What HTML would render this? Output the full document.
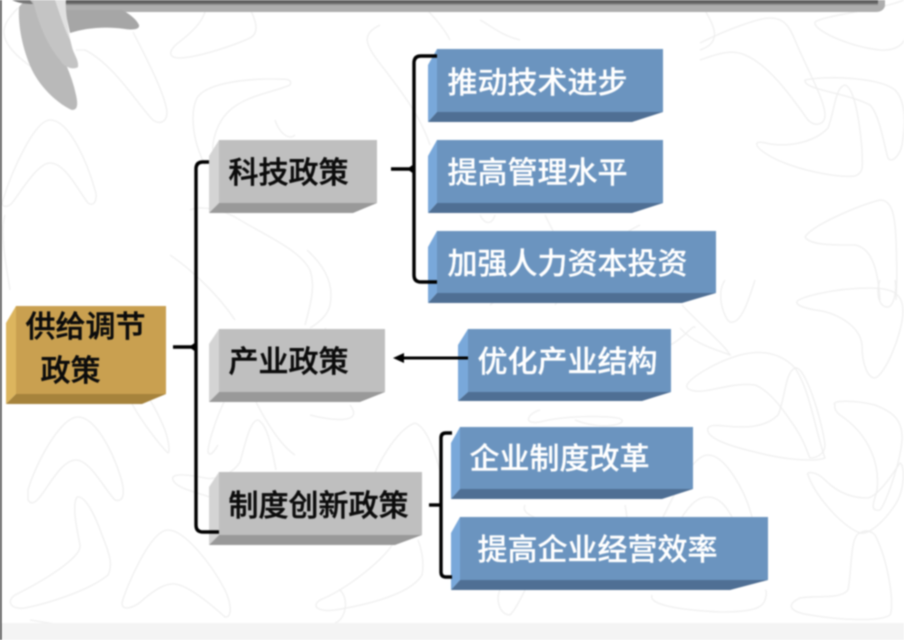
<!DOCTYPE html>
<html lang="zh">
<head>
<meta charset="utf-8">
<style>
html,body{margin:0;padding:0;background:#fff;width:904px;height:640px;overflow:hidden}
svg{display:block;filter:blur(.7px)}
text{font-family:"Liberation Sans","Noto Sans CJK SC",sans-serif;font-size:30px}
.b{fill:#0c0c0c;font-weight:500;stroke:#0c0c0c;stroke-width:.5}
.w{fill:#fff;font-weight:500;stroke:#fff;stroke-width:.2}
.o{fill:none;stroke:#efefef;stroke-width:1.3}
.c{fill:none;stroke:#000;stroke-width:3.4;stroke-linejoin:round}
</style>
</head>
<body>
<svg width="904" height="640" viewBox="0 0 904 640" xmlns="http://www.w3.org/2000/svg">
<rect width="904" height="640" fill="#fff"/>

<!-- boomerang outlines -->
<g class="o">
<path d="M18 8C8 18 3 26 4 34C6 50 30 68 48 76C58 80 68 82 70 78"/>
<path d="M133 32C150 65 165 95 167 112C167 122 160 125 153 120C140 108 115 65 85 50L76 50"/>
<path d="M207 0C207 18 195 30 178 43C168 51 168 58 180 58C200 57 235 45 250 38C260 33 257 20 245 0"/>
<path d="M290 85C293 78 285 79 265 79C235 80 205 85 197 98C190 112 192 140 205 165"/>
<path d="M290 85C275 92 245 95 228 112C215 125 212 145 213 150"/>
<path d="M3 200C0 208 8 208 12 203C22 190 38 163 50 163C65 163 78 190 88 203C95 208 98 197 95 190C88 165 70 120 50 120C35 120 12 170 3 200Z"/>
<path d="M28 500C33 508 40 497 45 490C55 475 65 460 76 460C90 460 105 490 115 500C125 503 125 490 120 475C112 450 95 417 78 417C60 417 35 465 28 490Z"/>
<path d="M77 497C72 505 76 525 80 545C82 555 55 575 15 595C5 602 12 610 25 608C50 603 90 590 108 575C113 565 110 555 102 535C95 515 85 495 77 497Z"/>
<path d="M168 530C150 530 125 590 122 603C122 612 135 608 145 598C155 590 165 583 175 584C190 586 215 608 225 617C232 618 232 605 225 590C212 565 185 530 168 530Z"/>
<path d="M258 420C250 420 245 445 240 462C232 475 215 480 205 478C190 475 170 472 173 480C176 488 195 492 210 497"/>
<path d="M258 420C268 425 272 450 276 470"/>
<path d="M130 400C140 420 160 445 167 452C170 456 170 445 165 430C160 418 155 408 150 400"/>
<path d="M225 400C215 420 208 445 208 452C210 458 215 450 218 445"/>
<path d="M415 423C395 430 375 470 372 480M415 423C430 428 440 470 442 480"/>
<path d="M395 540C385 560 345 590 320 600C310 607 320 612 335 610C365 605 410 595 422 575C425 560 420 545 418 540"/>
<path d="M190 210C200 205 225 210 240 220C265 235 300 250 310 270C315 285 312 300 305 325"/>
<path d="M170 255C185 265 215 290 235 320"/>
<path d="M307 250C320 262 335 280 330 305C328 315 320 322 310 328"/>
<path d="M340 590C350 600 345 620 335 623M255 400C265 420 280 445 295 455"/>
<path d="M5 215C0 230 5 260 10 290M30 620C60 625 100 630 130 635"/>
<path d="M700 43C730 28 760 18 770 18C785 18 790 28 795 40C805 65 825 100 825 115C825 125 815 127 808 120C795 102 770 65 745 55C730 48 712 56 700 60"/>
<path d="M815 22C812 30 850 47 880 50C895 51 903 45 905 38M815 22C825 15 880 10 904 0"/>
<path d="M805 80C803 90 845 92 870 105C880 115 885 150 888 158C892 164 900 155 902 145C906 120 905 100 895 90C880 78 830 75 805 80Z"/>
<path d="M757 143C755 148 770 158 790 165C810 172 840 178 855 176C865 172 862 165 862 150C860 125 855 88 845 85C835 87 835 110 828 128C815 142 790 147 770 144C762 142 758 142 757 143Z"/>
<path d="M805 237C812 225 860 205 880 200C892 200 895 215 896 240C897 265 897 285 896 300"/>
<path d="M805 237C810 246 840 245 855 245C872 248 878 270 880 300"/>
<path d="M700 0C705 15 730 40 700 50"/>
<path d="M725 280C715 295 725 320 730 322C742 325 750 295 755 280"/>
<path d="M797 303C793 298 835 288 870 288C895 288 903 295 903 312C902 335 885 375 875 378C868 378 862 365 862 345C860 325 835 312 815 310C805 308 798 306 797 303Z"/>
<path d="M880 280C875 295 880 308 888 307C894 306 897 290 895 280"/>
<path d="M687 385C685 390 695 393 710 390C725 387 740 383 755 385C768 390 780 405 790 420C805 440 808 455 810 458C815 458 825 455 825 445C822 420 805 365 795 368C780 352 760 350 740 355C715 362 690 378 687 385Z"/>
<path d="M708 428C705 437 725 445 755 452C785 460 815 462 825 458C815 430 810 390 795 368C785 372 785 400 778 415C765 428 745 428 725 426C715 425 710 425 708 428Z"/>
<path d="M835 405C830 400 855 400 875 405C893 412 903 420 902 440C900 465 885 505 880 510C868 512 875 500 877 490C880 465 870 435 840 415C835 411 834 408 835 405Z"/>
<path d="M808 475C805 472 815 470 825 480C840 495 855 498 868 498C880 495 895 470 900 463C905 465 905 490 895 505C885 520 870 535 860 533C840 525 815 495 808 475Z"/>
<path d="M860 533C850 535 852 570 848 590C840 600 815 595 800 598C785 605 790 612 810 615C840 620 880 622 890 615C895 605 888 560 875 535C870 530 865 530 860 533Z"/>
<path d="M663 517C670 505 690 455 708 455C725 455 745 490 752 517"/>
<path d="M682 517C690 505 697 497 708 497C720 497 727 508 732 517"/>
<path d="M652 595C648 605 680 610 720 612C745 612 762 610 765 600C768 590 765 590 765 590"/>
<path d="M682 305C695 320 725 345 730 355C718 350 695 345 680 328M670 345C682 340 695 322 695 328"/>
<path d="M540 410C530 412 520 425 540 422C565 415 620 415 622 420C625 425 600 430 575 420"/>
<path d="M525 505C520 515 540 520 570 528M625 505C628 520 628 530 625 545C612 530 600 520 600 520"/>
<path d="M500 590C495 600 500 615 510 615C515 610 520 600 525 590"/>
<path d="M490 305C510 290 525 280 545 260M555 305C570 285 590 250 640 225"/>
<path d="M380 25C360 35 365 45 385 70C400 90 420 115 430 145M415 0C430 10 445 30 450 40"/>
<path d="M520 40C500 35 490 25 480 20M275 120C280 135 290 140 295 135"/>
<path d="M310 415C330 420 365 425 350 405M350 330C345 340 335 345 325 328"/>
<path d="M480 215C485 225 492 225 495 215M545 215C550 225 555 235 558 240"/>
</g>

<!-- bottom band and left edge -->
<rect x="0" y="623" width="904" height="17" fill="#f4f4f4"/>
<rect x="0" y="0" width="1.6" height="640" fill="#3a3a3a"/>

<!-- top bar -->
<path d="M62 0H885V5C885 9 881 12 876 12H62Z" fill="#adadad"/>
<rect x="62" y="0" width="816" height="3.6" fill="#5f5f5f"/>
<rect x="62" y="3.6" width="816" height="1.4" fill="#8a8a8a"/>

<!-- swoosh -->
<path d="M65 10H122C130 14 137 20 139 25C140 30 132 30 125 29C105 26 85 28 70 33Z" fill="#a6a6a6"/>
<path d="M19 7C18 25 22 48 32 70C42 90 60 105 72 110C78 110 78 104 76 95C72 75 62 55 52 35C44 20 40 8 38 0H25Z" fill="#b9b9b9"/>
<path d="M33 0C37 20 47 45 60 60C64 68 74 70 78 67C79 60 74 55 72 47C67 28 65 12 65 0Z" fill="#c4c4c4"/>
<path d="M55 0C60 15 65 30 70 40C68 25 65 10 66 0Z" fill="#e0e0e0"/>
<path d="M12 0C18 3 25 4 33 4L30 0Z" fill="#777"/>

<!-- gold root -->
<polygon points="16,306 166,306 166,394 16,394" fill="#c9a050"/>
<polygon points="6,323 16,306 16,394 6,404" fill="#dcb55e"/>
<polygon points="6,404 16,394 166,394 142,404" fill="#a6833c"/>

<!-- gray boxes -->
<polygon points="219,140 377,140 377,203 219,203" fill="#bfbfbf"/>
<polygon points="209,156 219,140 219,203 209,213" fill="#d4d4d4"/>
<polygon points="209,213 219,203 377,203 353,213" fill="#999"/>

<polygon points="219,329 385,329 385,392 219,392" fill="#bfbfbf"/>
<polygon points="209,344 219,329 219,392 209,402" fill="#d4d4d4"/>
<polygon points="209,402 219,392 385,392 360,402" fill="#999"/>

<polygon points="219,472 422,472 422,535 219,535" fill="#bfbfbf"/>
<polygon points="209,487 219,472 219,535 209,545" fill="#d4d4d4"/>
<polygon points="209,545 219,535 422,535 395,545" fill="#999"/>

<!-- blue boxes -->
<polygon points="437,49 663,49 663,112 437,112" fill="#6b94bf"/>
<polygon points="428,65 437,49 437,112 428,122" fill="#79a8da"/>
<polygon points="428,122 437,112 663,112 632,122" fill="#4f6f94"/>

<polygon points="437,140 663,140 663,203 437,203" fill="#6b94bf"/>
<polygon points="428,156 437,140 437,203 428,213" fill="#79a8da"/>
<polygon points="428,213 437,203 663,203 632,213" fill="#4f6f94"/>

<polygon points="437,231 716,231 716,293 437,293" fill="#6b94bf"/>
<polygon points="428,247 437,231 437,293 428,303" fill="#79a8da"/>
<polygon points="428,303 437,293 716,293 682,303" fill="#4f6f94"/>

<polygon points="468,329 671,329 671,392 468,392" fill="#6b94bf"/>
<polygon points="458,345 468,329 468,392 458,401" fill="#79a8da"/>
<polygon points="458,401 468,392 671,392 642,401" fill="#4f6f94"/>

<polygon points="460,427 693,427 693,489 460,489" fill="#6b94bf"/>
<polygon points="451,443 460,427 460,489 451,499" fill="#79a8da"/>
<polygon points="451,499 460,489 693,489 662,499" fill="#4f6f94"/>

<polygon points="460,517 768,517 768,580 460,580" fill="#6b94bf"/>
<polygon points="451,533 460,517 460,580 451,590" fill="#79a8da"/>
<polygon points="451,590 460,580 768,580 730,590" fill="#4f6f94"/>

<!-- braces -->
<path class="c" d="M209 162H203Q196 162 196 169V525Q196 532 203 532H219"/>
<path class="c" d="M173 347H192"/><polygon points="191,345.5 196,342 196,352 191,348.500" fill="#000"/>
<path class="c" d="M437 56H421Q414 56 414 63V275Q414 282 421 282H437"/>
<path class="c" d="M391 169H410"/><polygon points="409,167.500 414,164 414,174 409,170.500" fill="#000"/>
<path class="c" d="M452 433H446Q441 433 441 438V572Q441 577 446 577H452"/>
<path class="c" d="M429 505H441"/>
<!-- arrow -->
<line x1="468" y1="358" x2="400" y2="358" stroke="#000" stroke-width="3"/>
<polygon points="393,358 404,353 404,363" fill="#000"/>

<!-- labels -->
<text class="b" x="25.500" y="337">供给调节</text>
<text class="b" x="40.500" y="381">政策</text>
<text class="b" x="228.500" y="183">科技政策</text>
<text class="b" x="228.500" y="372">产业政策</text>
<text class="b" x="228.500" y="516">制度创新政策</text>
<text class="w" x="447.500" y="93">推动技术进步</text>
<text class="w" x="447.500" y="183">提高管理水平</text>
<text class="w" x="447.500" y="274">加强人力资本投资</text>
<text class="w" x="477.500" y="372">优化产业结构</text>
<text class="w" x="469.500" y="469">企业制度改革</text>
<text class="w" x="477.500" y="560">提高企业经营效率</text>
</svg>
</body>
</html>
